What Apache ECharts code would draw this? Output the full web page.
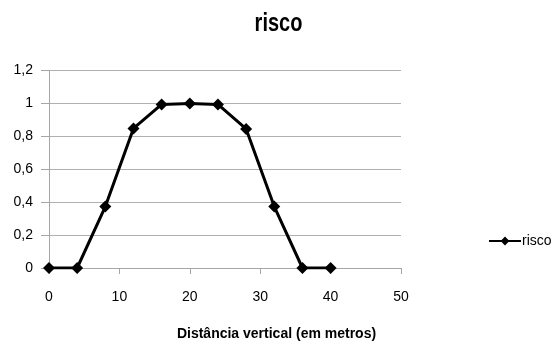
<!DOCTYPE html>
<html><head><meta charset="utf-8">
<script src="https://cdn.jsdelivr.net/npm/echarts@6/dist/echarts.min.js"></script>
<style>html,body{margin:0;padding:0;background:#fff}#c{width:553px;height:345px}</style>
</head><body><div id="c"></div>
<script>
const distances = [0, 4, 8, 12, 16, 20, 24, 28, 32, 36, 40];
const risco = [0, 0, 0.373, 0.848, 0.994, 1, 0.994, 0.845, 0.373, 0, 0];
const xTicks = [0, 10, 20, 30, 40, 50];
const yTicks = [0, 0.2, 0.4, 0.6, 0.8, 1, 1.2];
const chartTitle = 'risco';
const xName = 'Distância vertical (em metros)';
const FONT = '"Liberation Sans", Arial, sans-serif';
const chart = echarts.init(document.getElementById('c'));
chart.setOption({
  animation: false,
  graphic: [{
    type: 'text', x: 278.5, y: 24.5, scaleX: 0.8, originX: 0, originY: 0,
    style: { text: chartTitle, fontFamily: FONT, fontSize: 25, fontWeight: 'bold',
      fill: '#000', align: 'center', verticalAlign: 'middle' }
  }],
  title: [
    { text: xName, left: 276.5, top: 327, textAlign: 'center', padding: 0,
      textStyle: { fontFamily: FONT, fontSize: 14, fontWeight: 'bold', color: '#000' } }
  ],
  legend: { left: 488, top: 234, padding: 0, itemWidth: 32, itemHeight: 11, itemGap: 2,
    textStyle: { fontFamily: FONT, fontSize: 14, color: '#000', padding: [0,0,0,-4] },
    data: ['risco'] },
  grid: { left: 49, right: 152, top: 70.5, bottom: 77 },
  xAxis: { type: 'value', min: 0, max: 50, interval: 10,
    axisLine: { show: true, lineStyle: { color: '#a6a6a6', width: 1 } },
    axisTick: { show: true, length: 6, lineStyle: { color: '#a6a6a6' } },
    axisLabel: { fontFamily: FONT, fontSize: 14, color: '#000', margin: 22,
      formatter: v => xTicks.includes(v) ? String(v) : '' },
    splitLine: { show: false } },
  yAxis: { type: 'value', min: 0, max: 1.2, interval: 0.2,
    axisLine: { show: true, lineStyle: { color: '#a6a6a6', width: 1 } },
    axisTick: { show: true, length: 8, lineStyle: { color: '#a6a6a6' } },
    axisLabel: { fontFamily: FONT, fontSize: 14, color: '#000', margin: 16,
      formatter: v => { const t = yTicks.find(x => Math.abs(x - v) < 1e-9); return t === undefined ? '' : String(+t.toFixed(1)).replace('.', ','); } },
    splitLine: { show: true, lineStyle: { color: '#b0b0b0', width: 1 } } },
  series: [{
    name: 'risco', type: 'line',
    data: distances.map((d, i) => [d, risco[i]]),
    symbol: 'diamond', symbolSize: 12,
    lineStyle: { color: '#000', width: 3 },
    itemStyle: { color: '#000' }
  }]
});
</script></body></html>
